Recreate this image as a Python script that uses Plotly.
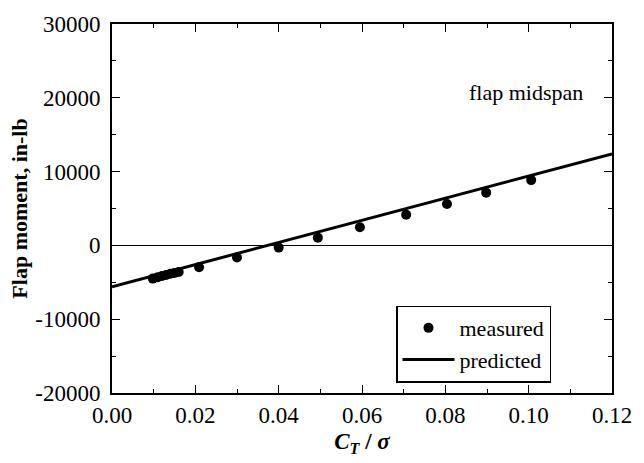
import plotly.graph_objects as go

# measured data
ct_sigma = [0.0098, 0.0110, 0.0120, 0.0130, 0.0140, 0.0150, 0.0160,
            0.0209, 0.0300, 0.0400, 0.0494, 0.0595, 0.0706, 0.0804, 0.0898, 0.1006]
moment = [-4500, -4300, -4150, -4000, -3850, -3750, -3600,
          -2950, -1650, -300, 1050, 2450, 4150, 5600, 7150, 8850]

# predicted line
pred_x = [0.0, 0.12]
pred_y = [-5600, 12400]

# tick labels
x_ticks = [0.0, 0.02, 0.04, 0.06, 0.08, 0.10, 0.12]
x_labels = ["0.00", "0.02", "0.04", "0.06", "0.08", "0.10", "0.12"]
y_ticks = [-20000, -10000, 0, 10000, 20000, 30000]
y_labels = ["-20000", "-10000", "0", "10000", "20000", "30000"]

font_family = "Liberation Serif"

fig = go.Figure()
fig.add_trace(go.Scatter(x=ct_sigma, y=moment, mode="markers", name="measured",
                         marker=dict(color="black", size=10, symbol="circle")))
fig.add_trace(go.Scatter(x=pred_x, y=pred_y, mode="lines", name="predicted",
                         line=dict(color="black", width=3)))

fig.add_annotation(x=0.1135, y=20700, text="flap midspan", showarrow=False,
                   xanchor="right", yanchor="middle",
                   font=dict(family=font_family, size=22, color="black"))

axis_common = dict(showline=True, linecolor="black", linewidth=2, mirror="ticks",
                   ticks="inside", ticklen=8, tickwidth=1, tickcolor="black",
                   showgrid=False, tickfont=dict(family=font_family, size=23, color="black"))

fig.update_xaxes(range=[0, 0.12], tickmode="array", tickvals=x_ticks, ticktext=x_labels,
                 minor=dict(ticks="inside", dtick=0.01, ticklen=4, tickcolor="black"),
                 zeroline=False,
                 title=dict(text="<b><i>C<sub>T</sub></i> / <i>σ</i></b>",
                            font=dict(family=font_family, size=23, color="black"),
                            standoff=6),
                 **axis_common)
fig.update_yaxes(range=[-20000, 30000], tickmode="array", tickvals=y_ticks, ticktext=y_labels,
                 minor=dict(ticks="inside", dtick=5000, ticklen=4, tickcolor="black"),
                 zeroline=True, zerolinecolor="black", zerolinewidth=1,
                 ticklabelstandoff=5,
                 title=dict(text="<b>Flap moment, in-lb</b>",
                            font=dict(family=font_family, size=22, color="black"),
                            standoff=2),
                 **axis_common)

fig.update_layout(
    width=644, height=463,
    margin=dict(l=112, r=32, t=18, b=70),
    plot_bgcolor="white", paper_bgcolor="white",
    font=dict(family=font_family, color="black"),
    legend=dict(x=0.568, y=0.237, xanchor="left", yanchor="top",
                bordercolor="black", borderwidth=1.5, bgcolor="white",
                font=dict(family=font_family, size=22, color="black"),
                tracegroupgap=0, itemwidth=52),
    showlegend=True,
)

fig.write_html("out.html")
